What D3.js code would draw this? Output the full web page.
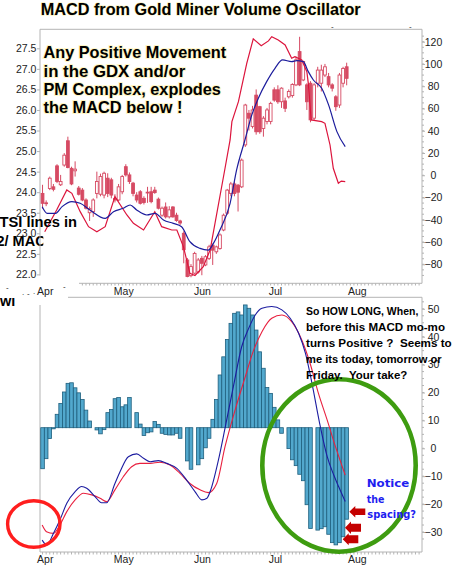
<!DOCTYPE html>
<html><head><meta charset="utf-8">
<script src="https://cdn.jsdelivr.net/npm/d3@7"></script>
<style>
html,body{margin:0;padding:0;background:#fff;}
svg{display:block;}
text{white-space:pre;}
</style></head>
<body><svg id="c" width="460" height="568"></svg>
<script>
// ---------- DATA ----------
const candleOpen  = [23.97,23.74,24.09,24.13,24.64,24.18,24.66,25.25,24.58,24.52,24.10,24.05,23.81,23.50,23.53,23.97,23.95,23.93,24.34,24.30,23.85,23.81,24.01,24.62,24.42,24.22,23.93,24.01,23.85,24.00,24.01,24.05,23.83,23.44,23.64,23.40,23.64,23.44,23.30,23.00,22.35,21.97,22.03,22.06,22.39,22.23,22.39,22.71,22.55,22.63,23.08,23.49,23.97,24.20,24.17,24.13,25.15,25.92,25.60,26.36,26.08,25.55,25.72,25.72,26.49,26.49,26.20,26.22,26.32,26.35,26.61,27.42,26.73,26.61,26.65,25.80,26.65,26.65,26.85,26.81,26.61,26.32,26.12,26.65,27.05];
const candleHigh  = [24.18,23.80,24.38,24.20,24.68,24.42,24.95,25.35,24.62,24.75,24.15,24.10,23.85,23.65,23.85,24.50,24.45,24.50,24.46,24.35,23.95,24.20,24.42,24.68,24.48,24.25,24.00,24.05,23.90,24.13,24.13,24.13,23.87,23.65,23.75,23.66,23.66,23.50,23.33,23.05,22.40,22.25,22.55,22.40,22.45,22.47,22.72,22.75,22.70,23.00,23.48,24.08,24.25,24.25,24.20,24.82,26.15,26.00,26.10,26.50,26.10,25.85,26.05,26.20,26.55,26.60,26.55,26.30,26.50,26.65,27.30,27.78,27.20,26.65,26.70,26.65,27.05,27.10,27.12,26.90,26.65,26.36,26.90,27.05,27.15];
const candleLow   = [23.60,23.66,24.05,24.02,24.22,24.15,24.62,24.58,24.17,24.38,23.92,23.78,23.58,23.30,23.40,23.85,23.90,23.85,23.88,23.85,23.75,23.78,23.95,24.38,24.20,23.90,23.75,23.70,23.70,23.74,23.73,23.96,23.58,23.40,23.36,23.36,23.38,23.28,23.20,22.27,21.93,21.93,22.00,22.02,21.98,22.20,22.35,22.23,22.50,22.60,23.05,23.45,23.90,23.90,23.53,24.10,25.10,25.50,25.55,25.40,25.42,25.35,25.65,25.65,26.20,26.15,26.05,25.95,26.28,26.30,26.58,26.58,26.70,26.00,25.70,25.75,26.55,26.45,26.80,26.55,26.45,25.98,26.05,26.55,26.60];
const candleClose = [23.73,23.72,24.34,24.07,24.26,24.26,24.90,24.60,24.20,24.56,23.95,23.81,23.61,23.60,23.81,24.26,24.38,24.46,23.97,23.93,23.81,24.13,24.38,24.42,24.26,23.97,23.81,23.73,23.75,23.98,23.77,23.99,23.61,23.61,23.40,23.57,23.40,23.31,23.25,22.60,21.95,22.19,22.51,22.35,22.27,22.43,22.67,22.59,22.67,22.96,23.44,24.05,24.20,23.97,24.00,24.78,26.12,25.80,26.00,25.47,25.47,25.80,26.00,26.16,26.24,26.20,26.53,26.04,26.45,26.62,27.22,26.61,27.18,26.20,25.76,26.61,26.97,26.97,27.05,26.61,26.53,26.08,26.85,27.01,26.77];

// top panel oscillator lines: [trading-day index, value]
const topRed = [[0.6,-50.7],[3.9,-31.2],[6.7,-13.2],[8.1,-16.2],[10.4,-32.7],[12.7,-46.2],[15,-50.7],[17.3,-46.2],[20,-19.2],[23.3,-35.7],[25.1,-43.2],[27.9,-49.2],[31,-32.7],[32.9,-46.2],[35.7,-49.2],[37.1,-49.2],[38.9,-64.1],[40.7,-88.1],[42.1,-90],[44.4,-82.1],[46.3,-67],[50.4,6.3],[51.8,31.7],[52.3,48.2],[54.1,66.1],[56.4,100.6],[58.2,122.5],[60.4,116.4],[62.4,120.7],[63.3,124.5],[65.1,121.6],[67,117.1],[68.8,105.1],[69.7,106.6],[71.6,103.6],[73,93],[73.4,82.6],[74.2,49.7],[77.1,48.2],[78,46.7],[79.4,27.2],[80.3,6.3],[81.7,-7.2],[82.5,-5.2],[83.6,-5.7]];
const topBlue = [[-0.1,-28.2],[1.3,-34.2],[3.6,-34.2],[5.4,-28.2],[8.1,-23.7],[10.4,-25.2],[13.1,-31.2],[17.3,-38.7],[19.6,-32.7],[22.3,-29.7],[24.2,-26.7],[26,-31.2],[28.8,-35.7],[31.1,-34.2],[33.4,-40.2],[36.1,-43.2],[38.4,-46.2],[40.7,-59.7],[43.5,-65.7],[45.8,-67.2],[47.2,-61.2],[49,-49.2],[51.8,-25.2],[53.6,4.8],[55.9,31.7],[57.8,54.2],[59.6,69.2],[61.9,84.1],[64.2,96.1],[66.3,103.6],[68.8,102.1],[70.2,103],[72,102.1],[73.4,93.1],[74.8,85.6],[77.1,78.2],[79,63.2],[81.3,39.2],[83.6,25.7]];

// bottom panel MACD lines
const macdBlue = [[-0.1,-32.9],[1.2,-34.7],[3,-30.5],[4.8,-25.7],[6.7,-19.7],[9,-15.5],[10.8,-13.7],[12.2,-14.3],[14.5,-17.3],[16.3,-19.5],[17.7,-19.5],[20,-12.6],[21.4,-8.4],[23.7,-3.0],[26,-2.0],[27.9,-3.6],[29.7,-4.8],[32,-4.4],[34.3,-5.4],[37.1,-7.2],[39.8,-11.4],[42.1,-15.5],[44,-18.5],[45.4,-17.9],[46.3,-15.5],[48.6,-4.1],[50.4,7.2],[52.7,22.1],[55,36.4],[56.9,42.9],[58.7,47.7],[60.6,50.2],[63.3,50.8],[66.1,49.6],[68.4,46.6],[70.7,41.3],[72.6,34.1],[74.4,23.4],[76.7,7.9],[78.6,-2.9],[80.4,-9.5],[81.8,-13.8],[83.6,-19.1]];
const macdRed = [[-0.1,-27.5],[1.1,-29.9],[3,-30.5],[4.8,-27.5],[6.7,-22.7],[9,-18.5],[11.3,-16.1],[13.6,-16.7],[15.9,-17.9],[17.7,-19.1],[20,-14.9],[22.3,-10.2],[24.6,-6.6],[26.9,-5.4],[29.7,-5.4],[32.4,-5.0],[35.2,-6.0],[37.9,-8.9],[40.7,-12.6],[43.5,-14.9],[45.8,-15.9],[48.1,-12.6],[50.4,0.6],[53.2,13.8],[56,25.7],[58.3,35.2],[60.6,41.8],[63.3,46.6],[66.1,47.8],[68.8,45.4],[71.6,38.8],[73.9,30.4],[76.2,19.7],[78.6,10.2],[80.9,0.6],[83.6,-9.6]];

// histogram (one bar per trading day)
const histValues = [-14.7,-11.1,-3.9,-0.4,4.8,8.7,12.8,15.9,16.1,14.3,12.5,10.1,6.3,2.4,0,-0.8,-2.2,-0.7,5.4,6.5,10.4,10.8,7.5,8.2,10.8,0,5.4,1.3,-2.8,-1.8,-1.5,2.2,1.2,-2.0,-2.4,-2.6,-2.6,-2.0,-3.8,0,-11.9,-14.9,0,-13.3,-11.1,-7.2,-3.8,3.0,10.1,18.9,25.4,31.6,37.4,41.0,41.5,40.4,44.0,42.8,40.4,35.0,27.2,21.3,14.4,12.3,7.3,2.8,-2.0,0,-7.5,-11.5,-13.6,-16.7,-19.0,-27.6,-36.1,0,-36.7,-36.2,-35.5,-38.2,-41.2,-42.0,-41.2,-39.1,-32.8];

// ticks
const priceTicks = [22.0,22.5,23.0,23.5,24.0,24.5,25.0,25.5,26.0,26.5,27.0,27.5];
const topRightTicks = [-80,-60,-40,-20,0,20,40,60,80,100,120];
const bottomRightTicks = [-30,-20,-10,0,10,20,30,40,50];
const monthLabels = ["Apr","May","Jun","Jul","Aug"];
const monthIndex = [0.6,22.3,44.0,64.2,86.8];

// ---------- DRAW ----------
const svg = d3.select("#c");
const SANS = "'Liberation Sans', Arial, sans-serif";
const AX = "#b4b4b4";

const x  = d3.scaleLinear().domain([-0.7, 104.8]).range([40, 422]);
const yP = d3.scaleLinear().domain([22, 27.5]).range([274.4, 48.3]);
const yT = d3.scaleLinear().domain([-80, 120]).range([264.3, 41.7]);
const yB = d3.scaleLinear().domain([-30, 50]).range([532, 308.8]);
const histBase = 427.7;
const yH = d3.scaleLinear().domain([-40, 40]).range([histBase + 111.6, histBase - 111.6]);

const defs = svg.append("defs");
defs.append("clipPath").attr("id","clipMac").append("rect").attr("x",-10).attr("y",200).attr("width",53.3).attr("height",60);
defs.append("clipPath").attr("id","clipWi").append("rect").attr("x",-10).attr("y",297.5).attr("width",60).attr("height",20);

// Title
svg.append("text").attr("x",40.7).attr("y",15).attr("font-family",SANS).attr("font-weight","bold")
  .attr("font-size",16.2).attr("fill","#000").attr("stroke","#f6ea9a").attr("stroke-width",0.8)
  .attr("paint-order","stroke").attr("textLength",320).attr("lengthAdjust","spacingAndGlyphs")
  .text("MACD from Gold Miner Volume Oscillator");

// stray fragments
const frag = svg.append("g").attr("font-family",SANS).attr("font-size",8).attr("fill","#222");
[[331,29,"-"],[409,29,"-"],[6,290,"-"],[22,295,"."],[27,296,"-"],[33,294,"."],[63,289,"-"]]
  .forEach(d=>frag.append("text").attr("x",d[0]).attr("y",d[1]).text(d[2]));

// left-side text fragments behind the chart
svg.append("text").attr("x",-3.5).attr("y",245.7).attr("font-family",SANS).attr("font-weight","bold")
  .attr("font-size",14.5).attr("clip-path","url(#clipMac)").text("2/ MACD");
svg.append("text").attr("x",0).attr("y",305.5).attr("font-family",SANS).attr("font-weight","bold")
  .attr("font-size",14.5).attr("clip-path","url(#clipWi)").text("wi");

// ----- TOP PANEL frame -----
const topG = svg.append("g");
const frame = topG.append("g").attr("stroke",AX).attr("stroke-width",1).attr("fill","none");
frame.append("line").attr("x1",40).attr("x2",422).attr("y1",29.3).attr("y2",29.3);
frame.append("line").attr("x1",40).attr("x2",40).attr("y1",29.3).attr("y2",275.5);
frame.append("line").attr("x1",422).attr("x2",422).attr("y1",29.3).attr("y2",283.3);
frame.append("line").attr("x1",79).attr("x2",422).attr("y1",283.3).attr("y2",283.3);

// left price axis
const la = topG.append("g").attr("transform","translate(40,0)")
  .call(d3.axisLeft(yP).tickValues(priceTicks).tickFormat(d3.format(".1f")).tickSize(3).tickPadding(0.6));
la.select(".domain").remove();
la.selectAll("line").attr("stroke",AX);
la.selectAll("text").attr("font-family",SANS).attr("font-size",10.5).attr("fill","#222");

// right oscillator axis (top)
const ra = topG.append("g").attr("transform","translate(422,0)")
  .call(d3.axisRight(yT).tickValues(topRightTicks).tickSize(3));
ra.select(".domain").remove();
ra.selectAll("line").attr("stroke",AX);
ra.selectAll("text").attr("font-family",SANS).attr("font-size",10.5).attr("fill","#222")
  .attr("text-anchor","middle").attr("x",11.5);
topG.append("g").selectAll("line").data(d3.range(-90,126,5)).join("line")
  .attr("x1",422).attr("x2",424).attr("y1",d=>yT(d)).attr("y2",d=>yT(d)).attr("stroke",AX);

// day ticks + month labels (top)
topG.append("g").selectAll("line").data(d3.range(11,105,1)).join("line")
  .attr("x1",d=>x(d)).attr("x2",d=>x(d)).attr("y1",283.3).attr("y2",285.5).attr("stroke",AX);
const ma = topG.append("g").attr("transform","translate(0,283.3)")
  .call(d3.axisBottom(x).tickValues(monthIndex).tickFormat((d,i)=>monthLabels[i]).tickSize(0).tickPadding(4.6));
ma.select(".domain").remove();
ma.selectAll("text").attr("font-family",SANS).attr("font-size",10.5).attr("fill","#222");

// candles
const CAND = "#d64a63";
const idx = d3.range(candleOpen.length);
const cg = topG.append("g");
cg.selectAll("line").data(idx).join("line")
  .attr("x1",i=>x(i)).attr("x2",i=>x(i))
  .attr("y1",i=>yP(candleHigh[i])).attr("y2",i=>yP(candleLow[i]))
  .attr("stroke",CAND).attr("stroke-width",1);
cg.selectAll("rect").data(idx).join("rect")
  .attr("x",i=>x(i)-1.4).attr("width",2.8)
  .attr("y",i=>yP(Math.max(candleOpen[i],candleClose[i])))
  .attr("height",i=>Math.max(0.8, Math.abs(yP(candleOpen[i])-yP(candleClose[i]))))
  .attr("fill",i=>candleClose[i]>=candleOpen[i]?"#fff":CAND)
  .attr("stroke",CAND).attr("stroke-width",0.9);

// oscillator lines
const lineT = d3.line().x(d=>x(d[0])).y(d=>yT(d[1]));
topG.append("path").datum(topRed).attr("d",lineT).attr("fill","none").attr("stroke","#dc143c").attr("stroke-width",1.2);
topG.append("path").datum(topBlue).attr("d",lineT.curve(d3.curveMonotoneX)).attr("fill","none").attr("stroke","#1c1c9c").attr("stroke-width",1.2);

// annotation top
const ann = topG.append("g").attr("font-family",SANS).attr("font-weight","bold").attr("font-size",16.5)
  .attr("fill","#000").attr("stroke","#fff6c4").attr("stroke-width",2).attr("paint-order","stroke");
[["Any Positive Movement",57.5,182.7],["in the GDX and/or",76.5,141.7],["PM Complex, explodes",95,177.4],["the MACD below !",113.3,139]]
  .forEach(d=>ann.append("text").attr("x",43.5).attr("y",d[1]).attr("textLength",d[2]).attr("lengthAdjust","spacingAndGlyphs").text(d[0]));

svg.append("text").attr("x",-0.5).attr("y",226.7).attr("font-family",SANS).attr("font-weight","bold")
  .attr("font-size",14.5).attr("textLength",77.5).attr("lengthAdjust","spacingAndGlyphs").text("TSI lines in");

// ----- BOTTOM PANEL -----
const bot = svg.append("g");
const bf = bot.append("g").attr("stroke",AX).attr("fill","none");
bf.append("line").attr("x1",68).attr("x2",422).attr("y1",297.3).attr("y2",297.3);
bf.append("line").attr("x1",40).attr("x2",40).attr("y1",305).attr("y2",552);
bf.append("line").attr("x1",422).attr("x2",422).attr("y1",297.3).attr("y2",552);
bf.append("line").attr("x1",40).attr("x2",422).attr("y1",552).attr("y2",552);

const rb = bot.append("g").attr("transform","translate(422,0)")
  .call(d3.axisRight(yB).tickValues(bottomRightTicks).tickSize(3));
rb.select(".domain").remove();
rb.selectAll("line").attr("stroke",AX);
rb.selectAll("text").attr("font-family",SANS).attr("font-size",10.5).attr("fill","#222")
  .attr("text-anchor","middle").attr("x",11.5);
bot.append("g").selectAll("line").data(d3.range(-32.5,53,2.5)).join("line")
  .attr("x1",422).attr("x2",424).attr("y1",d=>yB(d)).attr("y2",d=>yB(d)).attr("stroke",AX);

bot.append("g").selectAll("line").data(d3.range(0,105,1)).join("line")
  .attr("x1",d=>x(d)).attr("x2",d=>x(d)).attr("y1",552).attr("y2",554.5).attr("stroke",AX);
const mb = bot.append("g").attr("transform","translate(0,552)")
  .call(d3.axisBottom(x).tickValues(monthIndex).tickFormat((d,i)=>monthLabels[i]).tickSize(0).tickPadding(3.3));
mb.select(".domain").remove();
mb.selectAll("text").attr("font-family",SANS).attr("font-size",10.5).attr("fill","#222");

// histogram
const bw = x(1)-x(0);
bot.append("g").selectAll("rect").data(histValues.map((v,i)=>[i,v]).filter(d=>d[1]!==0)).join("rect")
  .attr("x",d=>x(d[0])-bw/2).attr("width",bw)
  .attr("y",d=>Math.min(yH(d[1]),yH(0))).attr("height",d=>Math.abs(yH(d[1])-yH(0)))
  .attr("fill","#52a8cd").attr("stroke","#1f5f7d").attr("stroke-width",0.8);

// MACD lines
const lineB = d3.line().x(d=>x(d[0])).y(d=>yB(d[1])).curve(d3.curveMonotoneX);
bot.append("path").datum(macdRed).attr("d",lineB).attr("fill","none").attr("stroke","#e8203f").attr("stroke-width",1.1);
bot.append("path").datum(macdBlue).attr("d",lineB).attr("fill","none").attr("stroke","#1c1ca0").attr("stroke-width",1.1);

// circles
bot.append("ellipse").attr("cx",339).attr("cy",465.5).attr("rx",76.7).attr("ry",86.2)
  .attr("fill","none").attr("stroke","#3e9c10").attr("stroke-width",4.6);
bot.append("ellipse").attr("cx",33.8).attr("cy",524).attr("rx",26.2).attr("ry",23.3)
  .attr("fill","none").attr("stroke","#ff1e1e").attr("stroke-width",3.4);

// text bottom
const bt = bot.append("g").attr("font-family",SANS).attr("font-weight","bold").attr("font-size",10.8).attr("fill","#000");
[["So HOW LONG, When,",315,112.3],["before this MACD mo-mo",330.7,139],["turns Positive ?  Seems to",347.3,145.7],["me its today, tomorrow or",363.3,135.7],["Friday.  Your take?",379.3,101.3]]
  .forEach(d=>bt.append("text").attr("x",306).attr("y",d[1]).attr("textLength",d[2]).attr("lengthAdjust","spacingAndGlyphs").text(d[0]));

const nt = bot.append("g").attr("font-family","'DejaVu Sans', Verdana, sans-serif").attr("font-weight","bold").attr("font-size",11).attr("fill","#1e1ef0");
[["Notice",366.7,487.3,42.7],["the",366.7,502.7,17.7],["spacing?",367.3,518.3,48.7]]
  .forEach(d=>nt.append("text").attr("x",d[1]).attr("y",d[2]).attr("textLength",d[3]).attr("lengthAdjust","spacingAndGlyphs").text(d[0]));

// arrows
function arrow(tx, ty, len, hl, hh, sh){
  return `M${tx},${ty} L${tx+hl},${ty-hh} L${tx+hl},${ty-sh} L${tx+len},${ty-sh} L${tx+len},${ty+sh} L${tx+hl},${ty+sh} L${tx+hl},${ty+hh} Z`;
}
[[349.3,511.7,16,6,5.8,3.3],[345,527.7,16,6,6.3,4],[342.7,539.3,15.6,6,6,4]]
  .forEach(a=>bot.append("path").attr("d",arrow(...a)).attr("fill","#c40000"));
</script>
</body></html>
